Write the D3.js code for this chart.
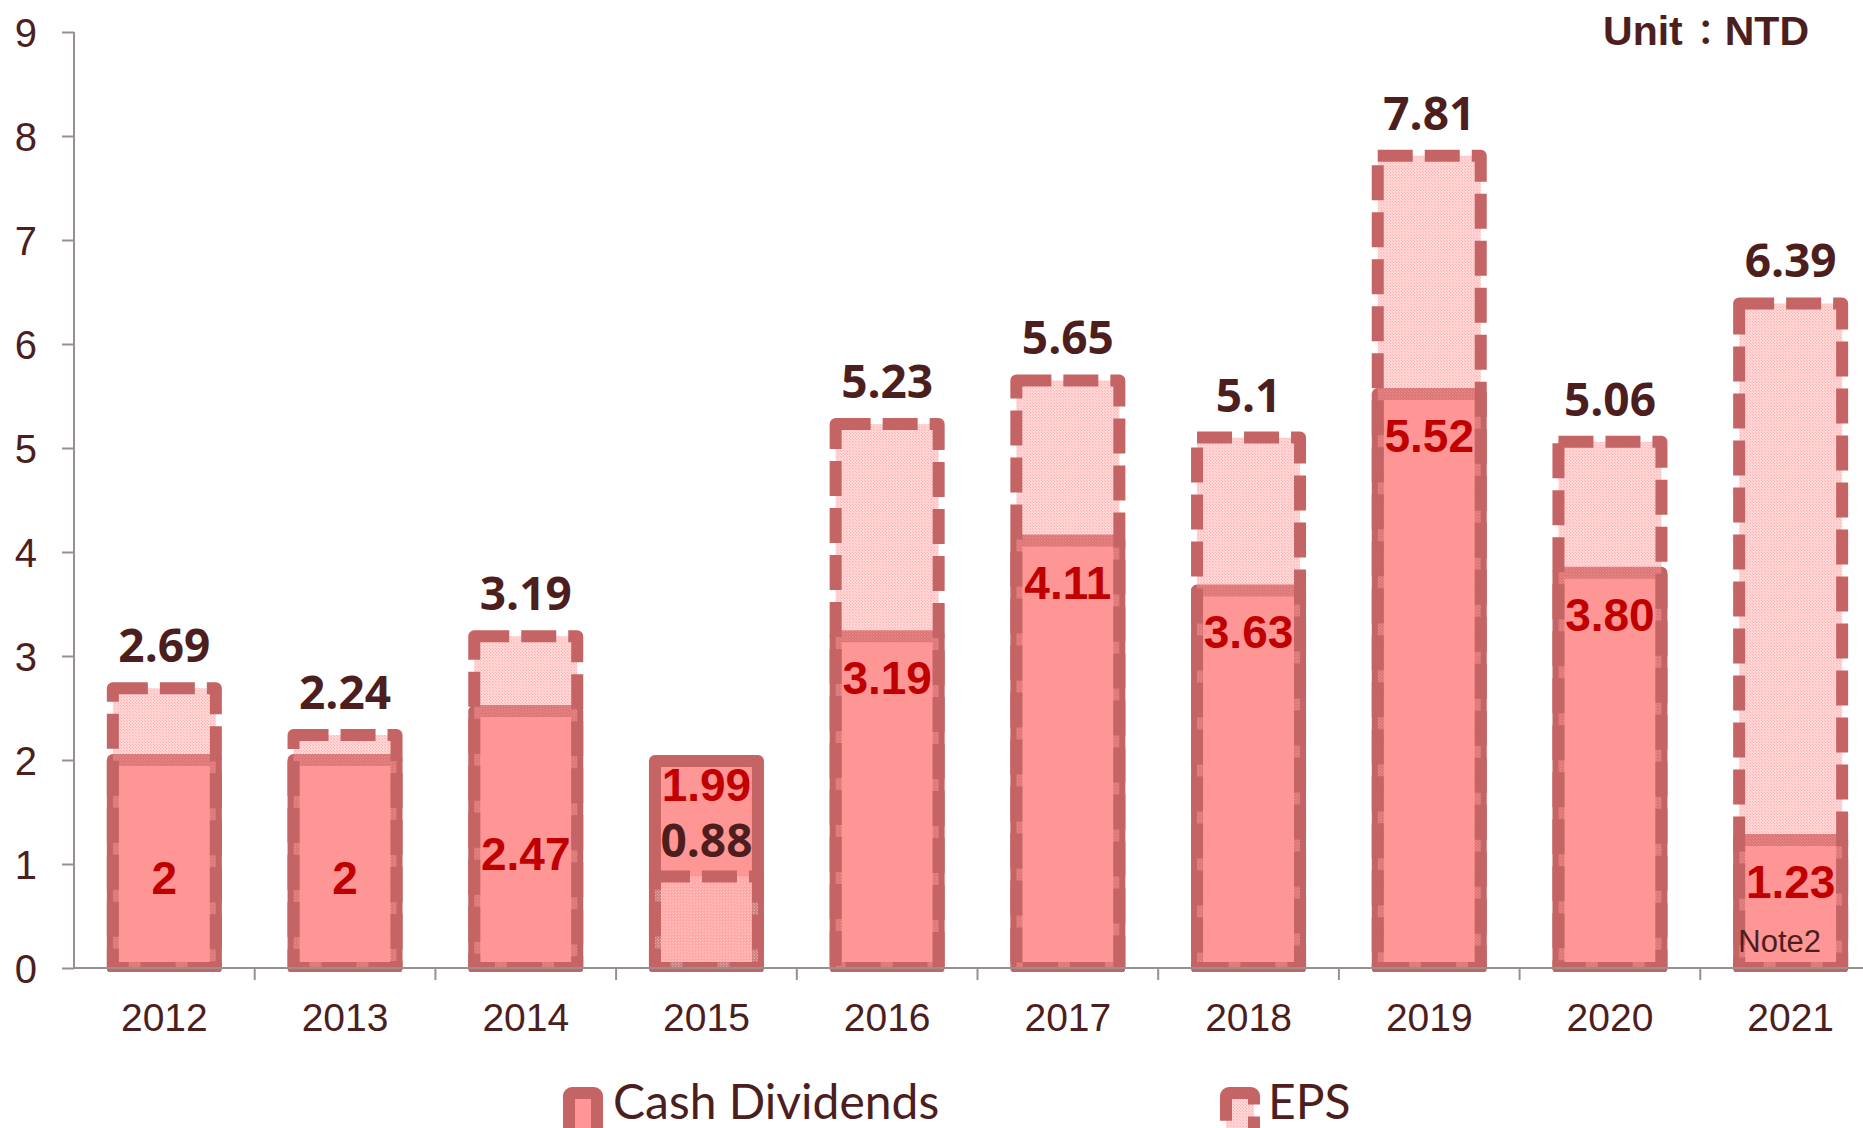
<!DOCTYPE html>
<html><head><meta charset="utf-8">
<script src="https://cdn.jsdelivr.net/npm/d3@7/dist/d3.min.js"></script>
<style>
html,body{margin:0;padding:0;background:#fff;}
svg{display:block;}
</style></head>
<body>
<svg id="chart" width="1863" height="1128"></svg>
<script>
const categories = ["2012","2013","2014","2015","2016","2017","2018","2019","2020","2021"];
const cashDividends = [2, 2, 2.47, 1.99, 3.19, 4.11, 3.63, 5.52, 3.80, 1.23];
const eps = [2.69, 2.24, 3.19, 0.88, 5.23, 5.65, 5.1, 7.81, 5.06, 6.39];
const dividendLabels = ["2","2","2.47","1.99","3.19","4.11","3.63","5.52","3.80","1.23"];
const epsLabels = ["2.69","2.24","3.19","0.88","5.23","5.65","5.1","7.81","5.06","6.39"];
const notes = ["","","","","","","","","","Note2"];
const yTicks = [0,1,2,3,4,5,6,7,8,9];
const seriesNames = ["Cash Dividends", "EPS"];
const unitText = ["Unit", "\uFF1A", "NTD"];

const BROWN = "#4d1e1e", RED = "#c00000", EDGE = "#c46464", FILL = "#ff9696", AXIS = "#9a8f8f";

const svg = d3.select("#chart");
const defs = svg.append("defs");

const pat = defs.append("pattern").attr("id","epsPat").attr("patternUnits","userSpaceOnUse")
  .attr("width",3).attr("height",3);
pat.append("rect").attr("width",3).attr("height",3).attr("fill","rgba(255,150,150,0.38)");
pat.append("rect").attr("x",0).attr("y",0).attr("width",1).attr("height",1).attr("fill","rgba(255,150,150,0.55)");
pat.append("rect").attr("x",1).attr("y",1).attr("width",1).attr("height",1).attr("fill","rgba(255,150,150,0.55)");
pat.append("rect").attr("x",2).attr("y",2).attr("width",1).attr("height",1).attr("fill","rgba(255,150,150,0.15)");

const patL = defs.append("pattern").attr("id","epsPatLight").attr("patternUnits","userSpaceOnUse")
  .attr("width",3).attr("height",3);
patL.append("rect").attr("width",3).attr("height",3).attr("fill","rgba(255,255,255,0.18)");
patL.append("rect").attr("x",0).attr("y",0).attr("width",1).attr("height",1).attr("fill","rgba(255,255,255,0.32)");
patL.append("rect").attr("x",1).attr("y",1).attr("width",1).attr("height",1).attr("fill","rgba(255,255,255,0.32)");

const y0px = 968;
const x = d3.scaleBand().domain(categories).range([74, 1881]).paddingInner(0).paddingOuter(0);
const y = d3.scaleLinear().domain([0, 9]).range([y0px, 32]);

defs.append("clipPath").attr("id","plotClip").append("rect")
  .attr("x",0).attr("y",0).attr("width",1863).attr("height",y0px+4);

const barW = x.bandwidth() * 0.57;
const data = categories.map((c,i)=>({c, div:cashDividends[i], eps:eps[i], dl:dividendLabels[i], el:epsLabels[i], note:notes[i]}));

const bars = svg.append("g").attr("clip-path","url(#plotClip)");

bars.selectAll("rect.div").data(data).join("rect").attr("class","div")
  .attr("x", d => x(d.c) + (x.bandwidth()-barW)/2)
  .attr("width", barW)
  .attr("y", d => y(d.div))
  .attr("height", d => y(0) - y(d.div))
  .attr("fill", FILL).attr("stroke", EDGE).attr("stroke-width", 12)
  .attr("stroke-linejoin","round");

bars.selectAll("rect.eps").data(data).join("rect").attr("class","eps")
  .attr("x", d => x(d.c) + (x.bandwidth()-barW)/2)
  .attr("width", barW)
  .attr("y", d => y(d.eps))
  .attr("height", d => y(0) - y(d.eps))
  .attr("fill", d => d.eps < d.div ? "url(#epsPatLight)" : "url(#epsPat)")
  .attr("stroke", EDGE).attr("stroke-width", 12)
  .attr("stroke-dasharray","35 12")
  .attr("stroke-linejoin","round");

const yAxis = d3.axisLeft(y).tickValues(yTicks).tickSize(12).tickPadding(25).tickFormat(d3.format("d"));
const gy = svg.append("g").attr("transform","translate(74,0)").call(yAxis);
gy.select(".domain").attr("stroke",AXIS).attr("stroke-width",2).attr("d",`M0,${y(9)}V${y0px}`);
gy.selectAll(".tick line").attr("stroke",AXIS).attr("stroke-width",2);
gy.selectAll(".tick text").attr("fill",BROWN).attr("font-family","'Liberation Sans',Arial,sans-serif")
  .attr("font-size",40).attr("dy","0.36em");

svg.append("line").attr("x1",74).attr("x2",1863).attr("y1",y0px).attr("y2",y0px)
  .attr("stroke",AXIS).attr("stroke-width",2);
svg.selectAll("line.xtick").data(categories).join("line").attr("class","xtick")
  .attr("x1", d => x(d) + x.bandwidth()).attr("x2", d => x(d) + x.bandwidth())
  .attr("y1", y0px).attr("y2", y0px + 12).attr("stroke",AXIS).attr("stroke-width",2);

const xAxis = d3.axisBottom(x).tickSize(0).tickPadding(0);
const gx = svg.append("g").attr("transform",`translate(0,${y0px})`).call(xAxis);
gx.select(".domain").remove();
gx.selectAll(".tick text").attr("fill",BROWN).attr("font-family","'Liberation Sans',Arial,sans-serif")
  .attr("font-size",39).attr("y",63).attr("dy",0);

svg.selectAll("text.epsl").data(data).join("text").attr("class","epsl")
  .attr("x", d => x(d.c) + x.bandwidth()/2)
  .attr("y", d => y(d.eps) - (d.eps < d.div ? 19 : 26))
  .attr("text-anchor","middle")
  .attr("font-family","'Open Sans',sans-serif").attr("font-weight",700).attr("font-size",46)
  .attr("fill",BROWN).text(d => d.el);

function divLabelCenter(d){
  if (d.eps < d.div) return y(d.div) + 24;
  if (d.note) return y(d.div) + 42;
  if (d.div < 2.5) return (y(d.div) + y(0))/2 + 14;
  return y(d.div) + 42;
}
svg.selectAll("text.divl").data(data).join("text").attr("class","divl")
  .attr("x", d => x(d.c) + x.bandwidth()/2)
  .attr("y", d => divLabelCenter(d) + 16)
  .attr("text-anchor","middle")
  .attr("font-family","'Liberation Sans',Arial,sans-serif").attr("font-weight",700).attr("font-size",46)
  .attr("fill",RED).text(d => d.dl);

svg.selectAll("text.note").data(data.filter(d=>d.note)).join("text").attr("class","note")
  .attr("x", d => x(d.c) + x.bandwidth()/2 - 11)
  .attr("y", y0px - 16)
  .attr("text-anchor","middle")
  .attr("font-family","'Liberation Sans',Arial,sans-serif").attr("font-size",31)
  .attr("fill",BROWN).text(d => d.note);

const unit = svg.append("text").attr("x",1809).attr("y",45).attr("text-anchor","end")
  .attr("font-family","'Liberation Sans',Arial,sans-serif").attr("font-weight",700)
  .attr("font-size",41).attr("fill",BROWN);
unit.append("tspan").text(unitText[0]);
unit.append("tspan").attr("font-family","'Noto Sans CJK JP','Noto Sans CJK TC',sans-serif")
  .attr("font-size",34).attr("dx",6).text(unitText[1]);
unit.append("tspan").attr("dx",2).text(unitText[2]);

const leg = svg.append("g");
const legItems = [
  {name: seriesNames[0], sx: 569, tx: 613, fill: FILL, dash: null},
  {name: seriesNames[1], sx: 1226, tx: 1268, fill: "url(#epsPat)", dash: "35 12"}
];
legItems.forEach(it => {
  leg.append("rect").attr("x", it.sx).attr("y", 1093).attr("width", 28).attr("height", 60)
    .attr("rx",3).attr("fill", it.fill).attr("stroke", EDGE).attr("stroke-width", 12)
    .attr("stroke-dasharray", it.dash).attr("stroke-linejoin","round");
  leg.append("text").attr("x", it.tx).attr("y", 1119)
    .attr("font-family","Lato,'Open Sans',sans-serif").attr("font-size",48)
    .attr("fill", BROWN).text(it.name);
});
</script>
</body></html>
